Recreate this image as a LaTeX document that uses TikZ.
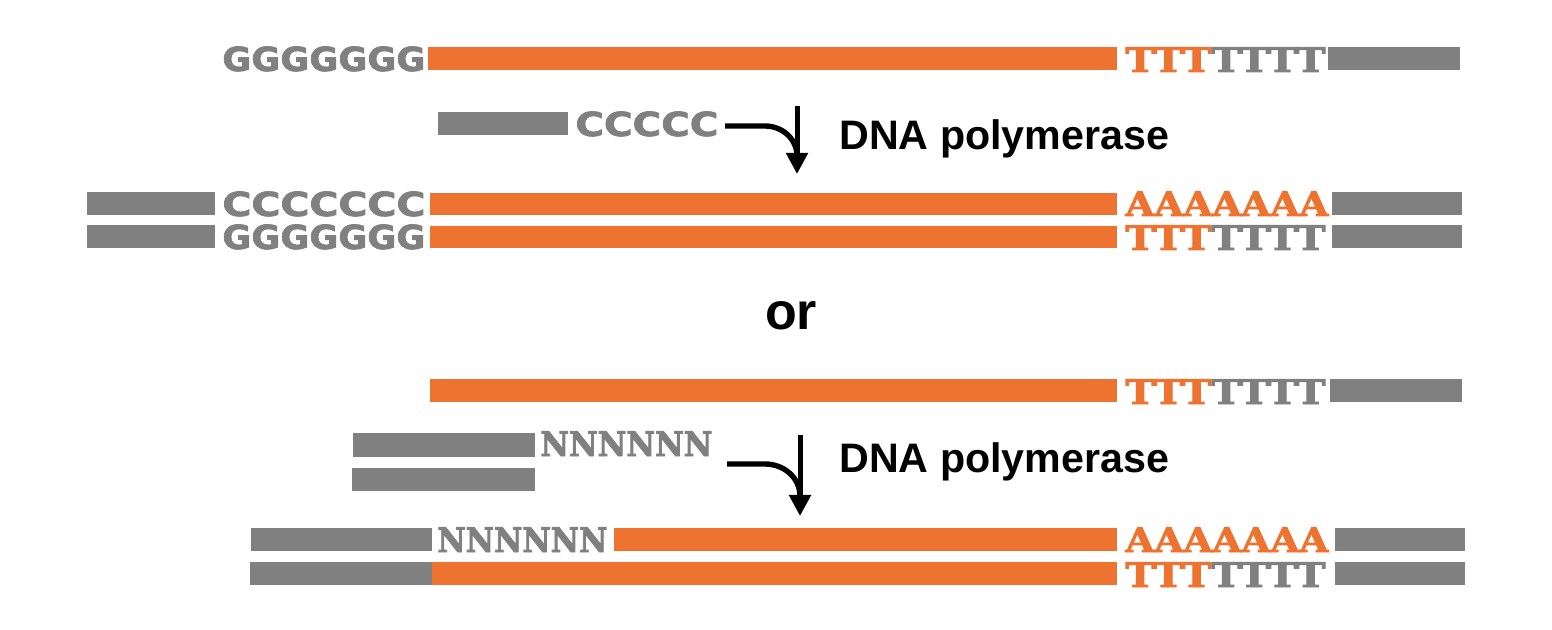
\documentclass[tikz,border=0pt]{standalone}
\usepackage{fontspec}
\usepackage{graphicx}
\setmainfont{Liberation Sans}
\newfontfamily\seqsans[FakeBold=2]{DejaVu Sans}
\newfontfamily\seqslab[FakeBold=2.5]{DejaVu Serif}
\usetikzlibrary{arrows.meta}

\definecolor{dnaorange}{RGB}{238,114,48}
\definecolor{dnagrey}{RGB}{128,128,128}

\begin{document}
\begin{tikzpicture}[
  x=0.5pt, y=-0.5pt,
  strand/.style={fill=dnagrey},
  insert/.style={fill=dnaorange},
  nts/.style={inner sep=0pt, anchor=base west, text=dnagrey},
  ntsans/.style={nts, font=\seqsans\bfseries\fontsize{16.5}{18}\selectfont},
  ntslab/.style={nts, font=\seqslab\bfseries\fontsize{16.5}{18}\selectfont},
  lab/.style={inner sep=0pt, font=\bfseries\fontsize{20.6}{24}\selectfont},
  arr/.style={-{Triangle[width=10.6pt, length=10.6pt]}, line width=2.5pt},
  feed/.style={line width=2.7pt}
]
\useasboundingbox (0,0) rectangle (1552,630);

% ---------------- top: template, primer and polymerase ----------------
\node[ntsans] (g1) at (222,71) {\resizebox{101.5pt}{12.3pt}{GGGGGGG}};
\fill[insert] (428,47) rectangle (1117,70);
\node[ntslab] (t1) at (1125,72) {\resizebox{100pt}{12.3pt}{\textcolor{dnaorange}{TTT}TTTT}};
\fill[strand] (1328,47) rectangle (1460,70);

\fill[strand] (438,112) rectangle (568,135);
\node[ntsans] (c1) at (575,136) {\resizebox{71.5pt}{12.3pt}{CCCCC}};

\coordinate (pol1top) at (797,106);
\coordinate (pol1tip) at (797,174);
\coordinate (pol1in) at (725,126);
\coordinate (pol1join) at (797,156);
\draw[arr] (pol1top) -- (pol1tip);
\draw[feed] (pol1in) -- ++(40,0) to[out=0, in=90] (pol1join);
\node[lab, anchor=base west] (pol1lab) at (839,150) {DNA polymerase};

% ---------------- double strand after first extension ----------------
\fill[strand] (87,192) rectangle (215,215);
\node[ntsans] (c2) at (222,216) {\resizebox{101.5pt}{12.3pt}{CCCCCCC}};
\fill[insert] (430,193) rectangle (1117,215);
\node[ntslab] (a1) at (1125,216) {\resizebox{101.5pt}{12.3pt}{\textcolor{dnaorange}{AAAAAAA}}};
\fill[strand] (1332,192) rectangle (1462,215);

\fill[strand] (87,225) rectangle (215,248);
\node[ntsans] (g2) at (222,249) {\resizebox{101.5pt}{12.3pt}{GGGGGGG}};
\fill[insert] (430,226) rectangle (1117,248);
\node[ntslab] (t2) at (1125,250) {\resizebox{100pt}{12.3pt}{\textcolor{dnaorange}{TTT}TTTT}};
\fill[strand] (1332,225) rectangle (1462,248);

\node[lab, font=\bfseries\fontsize{26}{30}\selectfont, anchor=base] (or) at (791,330) {or};

% ---------------- bottom: random primer route ----------------
\fill[insert] (430,379) rectangle (1117,402);
\node[ntslab] (t3) at (1125,404) {\resizebox{100pt}{12.3pt}{\textcolor{dnaorange}{TTT}TTTT}};
\fill[strand] (1330,379) rectangle (1462,402);

\fill[strand] (353,433) rectangle (535,457);
\node[ntslab] (n1) at (540,456) {\resizebox{86pt}{12.3pt}{NNNNNN}};
\fill[strand] (352,468) rectangle (535,491);

\coordinate (pol2top) at (800,435);
\coordinate (pol2tip) at (800,516);
\coordinate (pol2in) at (727,464);
\coordinate (pol2join) at (800,496);
\draw[arr] (pol2top) -- (pol2tip);
\draw[feed] (pol2in) -- ++(38,0) to[out=0, in=90] (pol2join);
\node[lab, anchor=base west] (pol2lab) at (839,473) {DNA polymerase};

\fill[strand] (251,528) rectangle (432,551);
\node[ntslab] (n2) at (437,552) {\resizebox{85pt}{12.3pt}{NNNNNN}};
\fill[insert] (614,528) rectangle (1117,551);
\node[ntslab] (a2) at (1125,552) {\resizebox{101.5pt}{12.3pt}{\textcolor{dnaorange}{AAAAAAA}}};
\fill[strand] (1335,528) rectangle (1465,551);

\fill[strand] (250,562) rectangle (432,585);
\fill[insert] (432,562) rectangle (1117,585);
\node[ntslab] (t4) at (1125,587) {\resizebox{100pt}{12.3pt}{\textcolor{dnaorange}{TTT}TTTT}};
\fill[strand] (1335,562) rectangle (1465,585);

\end{tikzpicture}
\end{document}
